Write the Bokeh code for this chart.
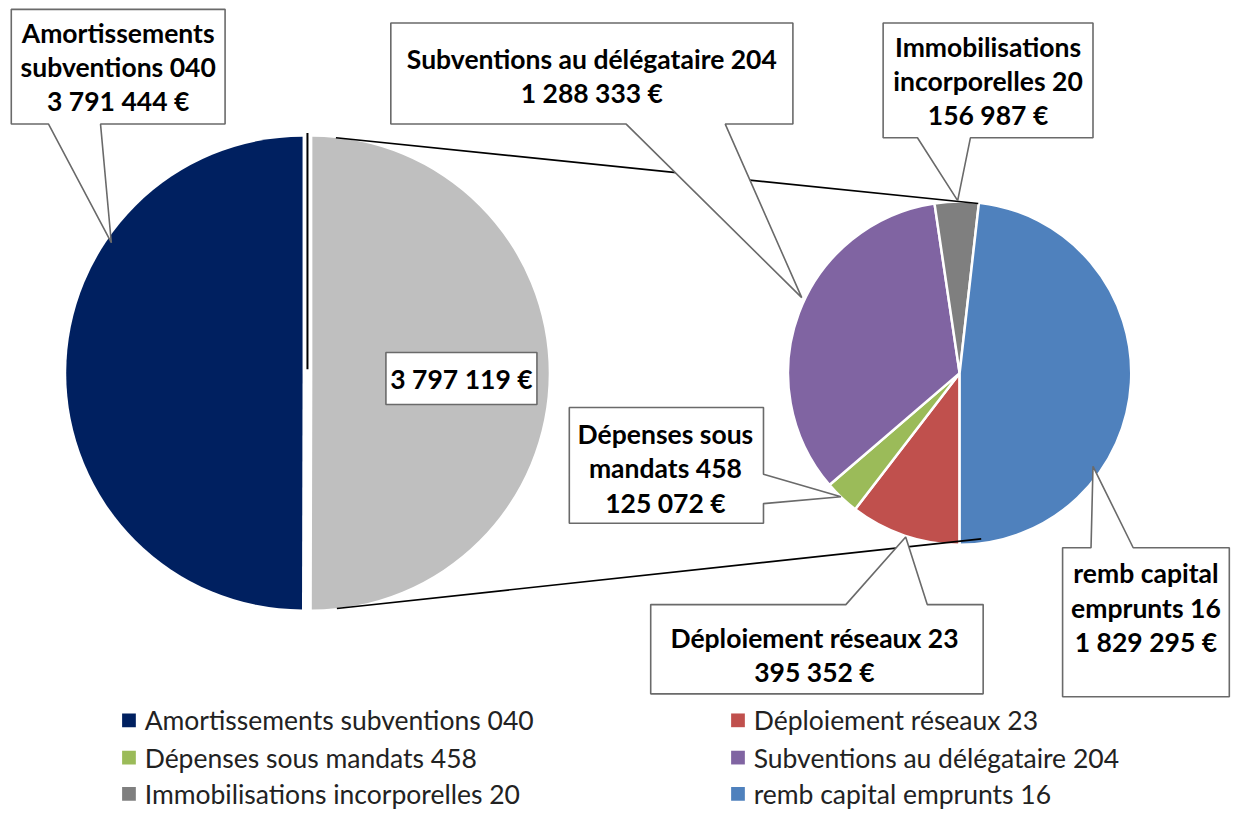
from bokeh.plotting import figure
from bokeh.models import Range1d
from bokeh.core.properties import value
from bokeh.embed import file_html
from bokeh.resources import INLINE
import numpy as np

# ---------------- data ----------------
main_categories = ["Amortissements subventions 040", "Autres"]
main_values = [3791444, 3797119]
main_colors = ["#002060", "#BFBFBF"]

sub_categories = ["Déploiement réseaux 23", "Dépenses sous mandats 458",
                  "Subventions au délégataire 204", "Immobilisations incorporelles 20",
                  "remb capital emprunts 16"]
sub_values = [395352, 125072, 1288333, 156987, 1829295]
sub_colors = ["#C0504D", "#9BBB59", "#8064A2", "#7F7F7F", "#4F81BD"]

legend_labels = [main_categories[0]] + sub_categories
legend_colors = [main_colors[0]] + sub_colors

# ---------------- layout helpers ----------------
PW, PH = 1240, 813
H = 829                      # reference height in its own pixels
SCALE = PH / H               # uniform scale so the whole reference fits
def Y(py):
    return H - py

def fmt(v):
    return f"{v:,}".replace(",", " ") + " €"

FONT = value("Lato")
FS = f"{27 * SCALE:.1f}px"

p = figure(width=PW, height=PH, output_backend="svg", toolbar_location=None,
           x_range=Range1d(0, PW / SCALE), y_range=Range1d(0, H),
           min_border=0, outline_line_color=None)
p.axis.visible = False
p.grid.visible = False
p.background_fill_color = "white"
p.border_fill_color = "white"

# ---------------- primary pie ----------------
R1 = 241
main_frac = np.array(main_values) / np.sum(main_values)
m_start = np.pi / 2 + 2 * np.pi * np.concatenate([[0], np.cumsum(main_frac)[:-1]])
m_end = np.pi / 2 + 2 * np.pi * np.cumsum(main_frac)
main_cx = [308, 318]
p.wedge(x=main_cx, y=[Y(380)] * 2, radius=R1, start_angle=m_start, end_angle=m_end,
        direction="anticlock", fill_color=main_colors, line_color=None)

# ---------------- secondary pie ----------------
R2 = 175
sub_frac = np.array(sub_values) / np.sum(sub_values)
theta0 = np.deg2rad(180) + 2 * np.pi * np.concatenate([[0], np.cumsum(sub_frac)[:-1]])
theta1 = np.deg2rad(180) + 2 * np.pi * np.cumsum(sub_frac)
s_start = np.pi / 2 - theta1
s_end = np.pi / 2 - theta0
p.wedge(x=[978] * len(sub_values), y=[Y(380)] * len(sub_values), radius=R2,
        start_angle=s_start, end_angle=s_end, direction="anticlock",
        fill_color=sub_colors, line_color="white", line_width=2.5)

# ---------------- series lines ----------------
p.line([342, 997], [Y(140), Y(207)], line_color="black", line_width=1.6)
p.line([343, 1000], [Y(620), Y(549)], line_color="black", line_width=1.6)
p.line([313, 313], [Y(135), Y(376)], line_color="black", line_width=2)

# ---------------- callouts ----------------
def callout(box, edge=None, a=None, b=None, tip=None):
    x0, y0, x1, y1 = box
    pts = [(x0, y0)]
    if edge == "top":
        pts += [(a, y0), tip, (b, y0)]
    pts.append((x1, y0))
    if edge == "right":
        pts += [(x1, a), tip, (x1, b)]
    pts.append((x1, y1))
    if edge == "bottom":
        pts += [(b, y1), tip, (a, y1)]
    pts.append((x0, y1))
    xs = [q[0] for q in pts]
    ys = [Y(q[1]) for q in pts]
    p.patch(xs, ys, fill_color="white", line_color="#6a6a6a", line_width=1.6)

def wrap(name, n):
    w = name.split(" ")
    if n is None or n >= len(w):
        return name
    return " ".join(w[:n]) + "\n" + " ".join(w[n:])

labels = [
    # name, value, words on first line, box, edge, a, b, tip, text center
    (main_categories[0], main_values[0], 1, (11, 9, 229, 126), "bottom", 49, 102, (113, 247), (120, 68)),
    (sub_categories[2], sub_values[2], None, (398, 23, 808, 126), "bottom", 638, 739, (817, 303), (603, 77)),
    (sub_categories[3], sub_values[3], 1, (900, 23, 1114, 140), "bottom", 935, 989, (976, 204), (1007, 82)),
    (sub_categories[1], sub_values[1], 2, (580, 415, 778, 533), "right", 483, 513, (857, 506), (678, 477)),
    (sub_categories[0], sub_values[0], None, (663, 616, 1002, 707), "top", 862, 945, (923, 547), (830, 667)),
    (sub_categories[4], sub_values[4], 2, (1083, 558, 1253, 710), "top", 1112, 1155, (1114, 475), (1168, 619)),
]
for name, v, n, box, edge, a, b, tip, tc in labels:
    callout(box, edge, a, b, tip)
    p.text(x=[tc[0]], y=[Y(tc[1])], text=[wrap(name, n) + "\n" + fmt(v)],
           text_font=FONT, text_font_style="bold", text_font_size=FS,
           text_align="center", text_baseline="middle", text_line_height=1.07,
           text_color="black")

# label of the "other" slice
callout((393, 359, 547, 412))
p.text(x=[470], y=[Y(386)], text=[fmt(main_values[1])], text_font=FONT,
       text_font_style="bold", text_font_size=FS, text_align="center",
       text_baseline="middle", text_color="black")

# ---------------- legend ----------------
col_x = [131, 752]
row_y = [734, 772, 809]
lx = [col_x[i % 2] for i in range(len(legend_labels))]
ly = [Y(row_y[i // 2]) for i in range(len(legend_labels))]
p.rect(x=lx, y=ly, width=14, height=14, fill_color=legend_colors, line_color=None)
p.text(x=[v + 16 for v in lx], y=ly, text=legend_labels, text_font=FONT,
       text_font_size=FS, text_align="left", text_baseline="middle",
       text_color="#222222")

open("out.html", "w").write(file_html(p, INLINE))
